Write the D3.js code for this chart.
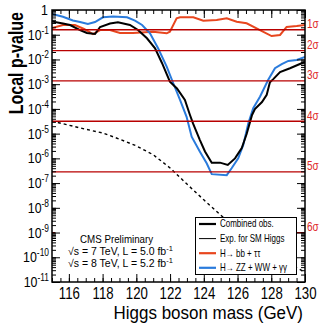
<!DOCTYPE html>
<html>
<head>
<meta charset="utf-8">
<script src="https://cdn.jsdelivr.net/npm/d3@7"></script>
<style>
  html, body { margin: 0; padding: 0; background: #fff; }
  svg { display: block; font-family: "Liberation Sans", Arial, sans-serif; }
</style>
</head>
<body>
<div id="chart"></div>
<script>
// Local p-value scan vs. Higgs boson mass
const obsMass = [115.0, 115.65, 116.07, 116.66, 117.07, 117.55, 117.85, 118.44, 118.91, 119.62,
  120.10, 120.63, 121.11, 121.52, 121.99, 122.41, 122.88, 123.18, 123.36, 123.77, 124.07,
  124.47, 124.96, 125.42, 125.85, 126.25, 126.54, 126.86, 127.03, 127.45, 127.73, 127.92,
  128.12, 128.52, 129.11, 129.80, 130.0];
const obsP = [0.343, 0.284, 0.247, 0.155, 0.117, 0.107, 0.205, 0.284, 0.318, 0.247,
  0.155, 0.0717, 0.0283, 7.2e-3, 1.26e-3, 6.7e-4, 2.3e-4, 5.7e-5, 2.6e-5, 5.5e-6, 1.9e-6,
  6.7e-7, 6.7e-7, 5.4e-7, 1.0e-6, 2.6e-6, 9.7e-6, 5.7e-5, 9.9e-5, 1.9e-4, 3.7e-4, 1.2e-3,
  1.6e-3, 3.1e-3, 4.4e-3, 7.0e-3, 7.9e-3];

const expMass = [115, 116, 117, 118, 119, 120, 121, 122, 123, 124, 125, 126, 127, 128, 129, 130];
const expP = [3.2e-5, 2.2e-5, 1.5e-5, 1.07e-5, 6.0e-6, 3.2e-6, 1.4e-6, 4.1e-7, 9.1e-8, 2.1e-8,
  5.1e-9, 1.3e-9, 4.0e-10, 1.4e-10, 5.6e-11, 2.5e-11];

const bbMass = [115.0, 115.65, 116.36, 116.90, 117.43, 117.85, 118.44, 119.03, 119.80, 120.99,
  121.80, 121.99, 122.39, 122.59, 123.38, 123.97, 124.76, 125.36, 125.95, 126.54, 127.33,
  128.02, 128.52, 128.91, 129.51, 130.0];
const bbP = [0.187, 0.247, 0.247, 0.171, 0.107, 0.155, 0.155, 0.117, 0.117, 0.133,
  0.114, 0.133, 0.461, 0.507, 0.507, 0.369, 0.394, 0.461, 0.337, 0.29, 0.155,
  0.0887, 0.0975, 0.206, 0.225, 0.247];

const zzMass = [115.0, 115.65, 116.24, 116.66, 117.13, 117.55, 118.02, 118.62, 119.45, 119.92,
  120.34, 120.81, 121.29, 121.80, 122.19, 122.59, 122.98, 123.28, 123.77, 124.17, 124.47,
  125.36, 125.65, 126.04, 126.34, 126.64, 126.93, 127.33, 127.82, 128.22, 128.62, 129.01,
  129.51, 130.0];
const zzP = [0.689, 0.535, 0.376, 0.327, 0.272, 0.327, 0.507, 0.546, 0.507, 0.369,
  0.247, 0.114, 0.0283, 5.1e-3, 1.09e-3, 2.3e-4, 4.8e-5, 7.5e-6, 1.86e-6, 6.3e-7, 2.3e-7,
  2.1e-7, 4.0e-7, 1.0e-6, 3.5e-6, 2.6e-5, 1.06e-4, 3.1e-4, 1.5e-3, 4.4e-3, 6.5e-3, 8.7e-3,
  9.5e-3, 0.0126];

// one-sided p-values for 1..6 sigma
const sigmaP = [1.587e-1, 2.275e-2, 1.350e-3, 3.167e-5, 2.867e-7, 9.866e-10];
const sigmaLabels = ["1σ", "2σ", "3σ", "4σ", "5σ", "6σ"];

const xMajor = [116, 118, 120, 122, 124, 126, 128, 130];
const decades = d3.range(0, -12, -1);

const W = 329, H = 324;
const fL = 52, fR = 305, fT = 10, fB = 282;
const SQ = 0.8; // horizontal squeeze for the narrow ROOT font

const x = d3.scaleLinear().domain([115, 130]).range([fL, fR]);
const y = d3.scaleLog().domain([1e-11, 1]).range([fB, fT]);

const svg = d3.select("#chart").append("svg")
  .attr("width", W).attr("height", H);

// places a text inside a translated, horizontally squeezed group
function label(parent, px, py, str, size, anchor, fill, sq) {
  const g = parent.append("g").attr("transform", `translate(${px},${py}) scale(${sq || SQ},1)`);
  return g.append("text")
    .attr("text-anchor", anchor || "start")
    .style("font-size", size + "px")
    .attr("fill", fill || "#000")
    .text(str);
}

svg.append("defs").append("clipPath").attr("id", "frame")
  .append("rect").attr("x", fL).attr("y", fT)
  .attr("width", fR - fL).attr("height", fB - fT);

const plot = svg.append("g").attr("clip-path", "url(#frame)");

const line = (ms, ps) => d3.line()
  .x((d, i) => x(ms[i]))
  .y(d => y(d))(ps);

// expected
plot.append("path").attr("d", line(expMass, expP))
  .attr("fill", "none").attr("stroke", "#000").attr("stroke-width", 1.4)
  .attr("stroke-dasharray", "3,3");

plot.append("path").attr("d", line(bbMass, bbP))
  .attr("fill", "none").attr("stroke", "#e8461e").attr("stroke-width", 2);

plot.append("path").attr("d", line(zzMass, zzP))
  .attr("fill", "none").attr("stroke", "#2a7bdc").attr("stroke-width", 2);

plot.append("path").attr("d", line(obsMass, obsP))
  .attr("fill", "none").attr("stroke", "#000").attr("stroke-width", 2);

// sigma lines
plot.selectAll("line.sig").data(sigmaP).join("line")
  .attr("class", "sig")
  .attr("x1", fL).attr("x2", fR)
  .attr("y1", d => y(d)).attr("y2", d => y(d))
  .attr("stroke", "#b80000").attr("stroke-width", 1.3);

sigmaP.forEach((p, i) => {
  label(svg, fR + 2, y(p) - 1.5, sigmaLabels[i], 12.5, "start", "#e0282a");
});

// text box
svg.append("rect").attr("x", 55).attr("y", 225).attr("width", 140).attr("height", 53)
  .attr("fill", "#fff");
label(svg, 80, 242.5, "CMS Preliminary", 10.5, "start", "#000", 0.93);
const l1 = label(svg, 68, 254.8, "√s = 7 TeV, L = 5.0 fb", 10.5, "start", "#000", 1);
l1.append("tspan").attr("dy", -4).style("font-size", "7.5px").text("-1");
const l2 = label(svg, 68, 267.1, "√s = 8 TeV, L = 5.2 fb", 10.5, "start", "#000", 1);
l2.append("tspan").attr("dy", -4).style("font-size", "7.5px").text("-1");

// legend
const legend = svg.append("g");
legend.append("rect").attr("x", 195.5).attr("y", 217.5).attr("width", 101).attr("height", 57)
  .attr("fill", "#fff").attr("stroke", "#000").attr("stroke-width", 1);
const entries = [
  { text: "Combined obs.", color: "#000", w: 2.2 },
  { text: "Exp. for SM Higgs", color: "#000", w: 1 },
  { text: "H\u2192 bb + \u03c4\u03c4", color: "#e8461e", w: 2.2 },
  { text: "H\u2192 ZZ + WW + \u03b3\u03b3", color: "#2a7bdc", w: 2.2 }
];
entries.forEach((e, i) => {
  const cy = 224 + i * 14.6;
  legend.append("line").attr("x1", 199).attr("x2", 216).attr("y1", cy).attr("y2", cy)
    .attr("stroke", e.color).attr("stroke-width", e.w);
  label(legend, 220, cy + 3.3, e.text, 10);
});

// axes: ticks inside the frame
const minorX = d3.range(115, 130.001, 0.5);
const minorY = y.ticks(30);

const axes = svg.append("g");
axes.append("g").attr("transform", `translate(0,${fB})`)
  .call(d3.axisBottom(x).tickValues(minorX).tickSize(-4).tickFormat(""));
axes.append("g").attr("transform", `translate(0,${fT})`)
  .call(d3.axisTop(x).tickValues(minorX).tickSize(-4).tickFormat(""));
axes.append("g").attr("transform", `translate(0,${fT})`)
  .call(d3.axisTop(x).tickValues(xMajor).tickSize(-8).tickFormat(""));
const xAx = axes.append("g").attr("transform", `translate(0,${fB})`)
  .call(d3.axisBottom(x).tickValues(xMajor).tickSize(-8).tickPadding(5).tickFormat(d3.format("d")));
xAx.selectAll("text")
  .attr("transform", `scale(${SQ},1)`)
  .style("font-size", "16.5px").style("font-family", "Liberation Sans, Arial, sans-serif");

axes.append("g").attr("transform", `translate(${fL},0)`)
  .call(d3.axisLeft(y).tickValues(minorY).tickSize(-4).tickFormat(""));
axes.append("g").attr("transform", `translate(${fL},0)`)
  .call(d3.axisLeft(y).tickValues(decades.map(k => Math.pow(10, k))).tickSize(-8).tickFormat(""));
axes.append("g").attr("transform", `translate(${fR},0)`)
  .call(d3.axisRight(y).tickValues(minorY).tickSize(-4).tickFormat(""));
axes.append("g").attr("transform", `translate(${fR},0)`)
  .call(d3.axisRight(y).tickValues(decades.map(k => Math.pow(10, k))).tickSize(-8).tickFormat(""));
axes.selectAll(".domain").remove();
axes.selectAll(".tick line").attr("stroke", "#000").attr("stroke-width", 1);

axes.append("rect").attr("x", fL).attr("y", fT)
  .attr("width", fR - fL).attr("height", fB - fT)
  .attr("fill", "none").attr("stroke", "#000").attr("stroke-width", 1.5);

// y tick labels
decades.forEach(k => {
  const py = y(Math.pow(10, k)) + 5;
  if (k === 0) {
    label(svg, 48, py, "1", 15.5, "end");
  } else {
    const t = label(svg, 49, py, "10", 15.5, "end");
    t.append("tspan").attr("dy", -6).style("font-size", "10.5px").text(String(k));
  }
});

// axis titles
label(svg, 303, 318.5, "Higgs boson mass (GeV)", 17.5, "end", "#000", 0.97);
svg.append("g").attr("transform", `translate(23,12) rotate(-90) scale(${SQ},1)`)
  .append("text").attr("text-anchor", "end")
  .style("font-size", "20px").style("font-weight", "bold")
  .text("Local p-value");
</script>
</body>
</html>
